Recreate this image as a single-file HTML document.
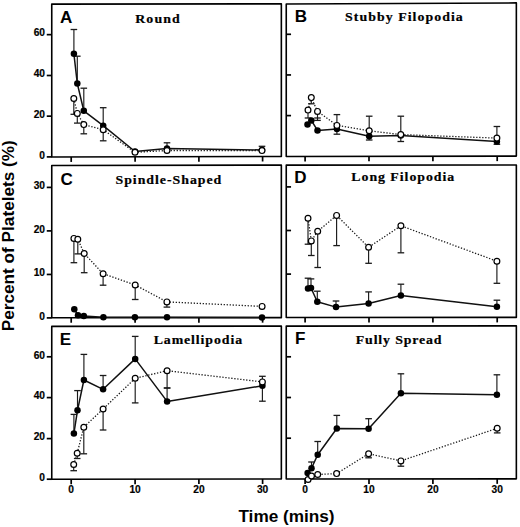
<!DOCTYPE html><html><head><meta charset="utf-8"><style>html,body{margin:0;padding:0;background:#fff;width:520px;height:527px;overflow:hidden}svg{display:block}</style></head><body>
<svg width="520" height="527" viewBox="0 0 520 527">
<rect x="0" y="0" width="520" height="527" fill="#fff"/>
<g fill="none" stroke="#000" stroke-width="1.6" stroke-linejoin="round">
<path d="M51.75 4.1L281.35 3.85L281.35 156.45L51.75 157Z"/>
<path d="M286.25 4L516.35 2.9L516.35 156.1L286.25 156.45Z"/>
<path d="M51.75 165.55L281.35 165.1L281.35 317.65L51.75 317.75Z"/>
<path d="M286.25 165.15L516.35 164.95L516.35 317.4L286.25 317.5Z"/>
<path d="M51.75 326.4L281.35 326.1L281.35 479L51.75 479.3Z"/>
<path d="M286.25 326.1L516.35 325.9L516.35 478.85L286.25 479Z"/>
</g>
<g stroke="#000" stroke-width="1.7" fill="none">
<line x1="71.2" y1="156.95" x2="71.2" y2="161.95"/>
<line x1="135.1" y1="156.8" x2="135.1" y2="161.8"/>
<line x1="198.9" y1="156.65" x2="198.9" y2="161.65"/>
<line x1="262.6" y1="156.49" x2="262.6" y2="161.49"/>
<line x1="46.75" y1="156.9" x2="51.75" y2="156.9"/>
<line x1="46.75" y1="116.15" x2="51.75" y2="116.15"/>
<line x1="46.75" y1="75.5" x2="51.75" y2="75.5"/>
<line x1="46.75" y1="34.65" x2="51.75" y2="34.65"/>
<line x1="305.1" y1="156.42" x2="305.1" y2="161.42"/>
<line x1="369" y1="156.32" x2="369" y2="161.32"/>
<line x1="432.9" y1="156.23" x2="432.9" y2="161.23"/>
<line x1="497.2" y1="156.13" x2="497.2" y2="161.13"/>
<line x1="286.25" y1="115.6" x2="291.05" y2="115.6"/>
<line x1="286.25" y1="74.95" x2="291.05" y2="74.95"/>
<line x1="286.25" y1="34.3" x2="291.05" y2="34.3"/>
<line x1="71.2" y1="317.74" x2="71.2" y2="322.74"/>
<line x1="135.1" y1="317.71" x2="135.1" y2="322.71"/>
<line x1="198.9" y1="317.69" x2="198.9" y2="322.69"/>
<line x1="262.6" y1="317.66" x2="262.6" y2="322.66"/>
<line x1="46.75" y1="317.9" x2="51.75" y2="317.9"/>
<line x1="46.75" y1="274.45" x2="51.75" y2="274.45"/>
<line x1="46.75" y1="230.9" x2="51.75" y2="230.9"/>
<line x1="46.75" y1="187.4" x2="51.75" y2="187.4"/>
<line x1="305.1" y1="317.49" x2="305.1" y2="322.49"/>
<line x1="369" y1="317.46" x2="369" y2="322.46"/>
<line x1="432.9" y1="317.44" x2="432.9" y2="322.44"/>
<line x1="497.2" y1="317.41" x2="497.2" y2="322.41"/>
<line x1="286.25" y1="274.1" x2="291.05" y2="274.1"/>
<line x1="286.25" y1="230.5" x2="291.05" y2="230.5"/>
<line x1="286.25" y1="186.9" x2="291.05" y2="186.9"/>
<line x1="71.2" y1="479.27" x2="71.2" y2="484.27"/>
<line x1="135.1" y1="479.19" x2="135.1" y2="484.19"/>
<line x1="198.9" y1="479.11" x2="198.9" y2="484.11"/>
<line x1="262.6" y1="479.02" x2="262.6" y2="484.02"/>
<line x1="46.75" y1="479.2" x2="51.75" y2="479.2"/>
<line x1="46.75" y1="438.6" x2="51.75" y2="438.6"/>
<line x1="46.75" y1="397.6" x2="51.75" y2="397.6"/>
<line x1="46.75" y1="356.8" x2="51.75" y2="356.8"/>
<line x1="305.1" y1="478.99" x2="305.1" y2="483.99"/>
<line x1="369" y1="478.95" x2="369" y2="483.95"/>
<line x1="432.9" y1="478.9" x2="432.9" y2="483.9"/>
<line x1="497.2" y1="478.86" x2="497.2" y2="483.86"/>
<line x1="286.25" y1="438.2" x2="291.05" y2="438.2"/>
<line x1="286.25" y1="397.5" x2="291.05" y2="397.5"/>
<line x1="286.25" y1="356.8" x2="291.05" y2="356.8"/>
</g>
<g font-family="Liberation Sans, sans-serif" font-weight="bold" font-size="10.2" fill="#000" stroke="#000" stroke-width="0.2">
<text transform="translate(45 158.7) scale(1.0 1)" text-anchor="end">0</text>
<text transform="translate(45 117.95) scale(1.0 1)" text-anchor="end">20</text>
<text transform="translate(45 77.3) scale(1.0 1)" text-anchor="end">40</text>
<text transform="translate(45 36.45) scale(1.0 1)" text-anchor="end">60</text>
<text transform="translate(45 319.7) scale(1.0 1)" text-anchor="end">0</text>
<text transform="translate(45 276.25) scale(1.0 1)" text-anchor="end">10</text>
<text transform="translate(45 232.7) scale(1.0 1)" text-anchor="end">20</text>
<text transform="translate(45 189.2) scale(1.0 1)" text-anchor="end">30</text>
<text transform="translate(45 481) scale(1.0 1)" text-anchor="end">0</text>
<text transform="translate(45 440.4) scale(1.0 1)" text-anchor="end">20</text>
<text transform="translate(45 399.4) scale(1.0 1)" text-anchor="end">40</text>
<text transform="translate(45 358.6) scale(1.0 1)" text-anchor="end">60</text>
<text transform="translate(71.2 492.6) scale(1.0 1)" text-anchor="middle">0</text>
<text transform="translate(135.1 492.6) scale(1.0 1)" text-anchor="middle">10</text>
<text transform="translate(198.9 492.6) scale(1.0 1)" text-anchor="middle">20</text>
<text transform="translate(262.6 492.6) scale(1.0 1)" text-anchor="middle">30</text>
<text transform="translate(305.1 492.6) scale(1.0 1)" text-anchor="middle">0</text>
<text transform="translate(369 492.6) scale(1.0 1)" text-anchor="middle">10</text>
<text transform="translate(432.9 492.6) scale(1.0 1)" text-anchor="middle">20</text>
<text transform="translate(497.2 492.6) scale(1.0 1)" text-anchor="middle">30</text>
</g>
<g font-family="Liberation Sans, sans-serif" font-weight="bold" font-size="17.4" fill="#000">
<text transform="translate(60 23.45) scale(0.98 1)">A</text>
<text transform="translate(294.8 21.9) scale(0.98 1)">B</text>
<text transform="translate(60.4 184.7) scale(0.98 1)">C</text>
<text transform="translate(294.2 183) scale(0.98 1)">D</text>
<text transform="translate(59.7 345.1) scale(0.98 1)">E</text>
<text transform="translate(295 344.1) scale(0.98 1)">F</text>
</g>
<g font-family="Liberation Serif, serif" font-weight="bold" font-size="12.6" fill="#000" stroke="#000" stroke-width="0.2">
<text transform="translate(135.3 22.6) scale(1.1 1)" x="0" y="0" textLength="40.36" lengthAdjust="spacing">Round</text>
<text transform="translate(345 20.6) scale(1.1 1)" x="0" y="0" textLength="107.09" lengthAdjust="spacing">Stubby Filopodia</text>
<text transform="translate(115.5 183.6) scale(1.1 1)" x="0" y="0" textLength="96.18" lengthAdjust="spacing">Spindle-Shaped</text>
<text transform="translate(351.3 180.7) scale(1.1 1)" x="0" y="0" textLength="93.64" lengthAdjust="spacing">Long Filopodia</text>
<text transform="translate(153.7 344.1) scale(1.1 1)" x="0" y="0" textLength="80.36" lengthAdjust="spacing">Lamellipodia</text>
<text transform="translate(355.8 343.5) scale(1.1 1)" x="0" y="0" textLength="77.91" lengthAdjust="spacing">Fully Spread</text>
</g>
<polyline points="73.9,53.8 77.3,83.5 83.8,110.8 103.2,125.7 135,151.5 167,148.5 262,150" fill="none" stroke="#111" stroke-width="1.5" stroke-linejoin="round"/>
<polyline points="73.8,98.5 77.3,113.4 83.8,124.6 103.2,129.7 135,152.3 167,150.5 262,150.6" fill="none" stroke="#1a1a1a" stroke-width="1.3" stroke-dasharray="1.3 1.7"/>
<polyline points="307.5,124.4 311.3,120.4 317.5,130.4 336.9,129 369.2,136.2 400.8,135.5 496.9,141.5" fill="none" stroke="#111" stroke-width="1.5" stroke-linejoin="round"/>
<polyline points="308,110.1 311.3,97.6 317.5,111.4 336.9,125.4 369.2,130.8 400.8,134.6 496.9,138.1" fill="none" stroke="#1a1a1a" stroke-width="1.3" stroke-dasharray="1.3 1.7"/>
<polyline points="74.3,309.2 78,315.3 83.8,316.1 103.4,317.3 134.9,317.3 167,317.3 262,317.4" fill="none" stroke="#111" stroke-width="1.5" stroke-linejoin="round"/>
<polyline points="73.9,238.4 77.8,239.3 84.2,253.5 103.1,273.7 135.2,285 166.9,301.9 262.1,306.4" fill="none" stroke="#1a1a1a" stroke-width="1.3" stroke-dasharray="1.3 1.7"/>
<polyline points="308,288.4 311,288 317.3,301.7 336,307.1 368.6,303.5 400.9,295.6 496.9,306.7" fill="none" stroke="#111" stroke-width="1.5" stroke-linejoin="round"/>
<polyline points="308,218.3 311.3,240.9 317.7,231.3 336.6,215.4 368.6,247.3 400.9,225.8 496.9,261.2" fill="none" stroke="#1a1a1a" stroke-width="1.3" stroke-dasharray="1.3 1.7"/>
<polyline points="73.9,433.5 77.5,410.3 83.9,380 103.1,389.3 135.2,358.9 167.1,401.4 262.4,385.8" fill="none" stroke="#111" stroke-width="1.5" stroke-linejoin="round"/>
<polyline points="73.7,464.5 77.2,453.2 83.8,427.2 103.1,409 135.2,378.3 167.1,370.7 262.4,381.9" fill="none" stroke="#1a1a1a" stroke-width="1.3" stroke-dasharray="1.3 1.7"/>
<polyline points="307.6,473.1 311.5,468.3 317.7,454.7 336.8,428.5 368.6,428.7 400.9,393.2 496.9,394.8" fill="none" stroke="#111" stroke-width="1.5" stroke-linejoin="round"/>
<polyline points="308.1,479.5 311.5,476 317.7,474.5 336.6,473.6 368.6,453.8 400.9,460.9 497.2,428.3" fill="none" stroke="#1a1a1a" stroke-width="1.3" stroke-dasharray="1.3 1.7"/>
<g stroke="#1a1a1a" stroke-width="1.15" fill="none">
<line x1="73.9" y1="53.8" x2="73.9" y2="29.5"/>
<line x1="70.6" y1="29.5" x2="77.2" y2="29.5" stroke-width="1.3"/>
<line x1="77.3" y1="83.5" x2="77.3" y2="56.2"/>
<line x1="74" y1="56.2" x2="80.6" y2="56.2" stroke-width="1.3"/>
<line x1="83.8" y1="110.8" x2="83.8" y2="88.2"/>
<line x1="80.5" y1="88.2" x2="87.1" y2="88.2" stroke-width="1.3"/>
<line x1="103.2" y1="125.7" x2="103.2" y2="107.7"/>
<line x1="99.9" y1="107.7" x2="106.5" y2="107.7" stroke-width="1.3"/>
<line x1="167" y1="148.5" x2="167" y2="142.8"/>
<line x1="163.7" y1="142.8" x2="170.3" y2="142.8" stroke-width="1.3"/>
<line x1="262" y1="150" x2="262" y2="146.3"/>
<line x1="258.7" y1="146.3" x2="265.3" y2="146.3" stroke-width="1.3"/>
<line x1="73.8" y1="98.5" x2="73.8" y2="114.3"/>
<line x1="70.5" y1="114.3" x2="77.1" y2="114.3" stroke-width="1.3"/>
<line x1="77.3" y1="113.4" x2="77.3" y2="123.1"/>
<line x1="74" y1="123.1" x2="80.6" y2="123.1" stroke-width="1.3"/>
<line x1="83.8" y1="124.6" x2="83.8" y2="133.8"/>
<line x1="80.5" y1="133.8" x2="87.1" y2="133.8" stroke-width="1.3"/>
<line x1="103.2" y1="129.7" x2="103.2" y2="140.8"/>
<line x1="99.9" y1="140.8" x2="106.5" y2="140.8" stroke-width="1.3"/>
<line x1="336.9" y1="129" x2="336.9" y2="134.2"/>
<line x1="333.6" y1="134.2" x2="340.2" y2="134.2" stroke-width="1.3"/>
<line x1="369.2" y1="136.2" x2="369.2" y2="140"/>
<line x1="365.9" y1="140" x2="372.5" y2="140" stroke-width="1.3"/>
<line x1="400.8" y1="135.5" x2="400.8" y2="141.5"/>
<line x1="397.5" y1="141.5" x2="404.1" y2="141.5" stroke-width="1.3"/>
<line x1="496.9" y1="141.5" x2="496.9" y2="144.3"/>
<line x1="493.6" y1="144.3" x2="500.2" y2="144.3" stroke-width="1.3"/>
<line x1="308" y1="110.1" x2="308" y2="118"/>
<line x1="304.7" y1="118" x2="311.3" y2="118" stroke-width="1.3"/>
<line x1="311.3" y1="97.6" x2="311.3" y2="103.8"/>
<line x1="308" y1="103.8" x2="314.6" y2="103.8" stroke-width="1.3"/>
<line x1="317.5" y1="111.4" x2="317.5" y2="120.4"/>
<line x1="314.2" y1="120.4" x2="320.8" y2="120.4" stroke-width="1.3"/>
<line x1="336.9" y1="125.4" x2="336.9" y2="114.6"/>
<line x1="333.6" y1="114.6" x2="340.2" y2="114.6" stroke-width="1.3"/>
<line x1="369.2" y1="130.8" x2="369.2" y2="116.2"/>
<line x1="365.9" y1="116.2" x2="372.5" y2="116.2" stroke-width="1.3"/>
<line x1="400.8" y1="134.6" x2="400.8" y2="116.2"/>
<line x1="397.5" y1="116.2" x2="404.1" y2="116.2" stroke-width="1.3"/>
<line x1="496.9" y1="138.1" x2="496.9" y2="126.5"/>
<line x1="493.6" y1="126.5" x2="500.2" y2="126.5" stroke-width="1.3"/>
<line x1="314.2" y1="118" x2="320.8" y2="118" stroke-width="1.3"/>
<line x1="73.9" y1="238.4" x2="73.9" y2="262.7"/>
<line x1="70.6" y1="262.7" x2="77.2" y2="262.7" stroke-width="1.3"/>
<line x1="77.8" y1="239.3" x2="77.8" y2="253.9"/>
<line x1="74.5" y1="253.9" x2="81.1" y2="253.9" stroke-width="1.3"/>
<line x1="84.2" y1="253.5" x2="84.2" y2="272.7"/>
<line x1="80.9" y1="272.7" x2="87.5" y2="272.7" stroke-width="1.3"/>
<line x1="103.1" y1="273.7" x2="103.1" y2="285.2"/>
<line x1="99.8" y1="285.2" x2="106.4" y2="285.2" stroke-width="1.3"/>
<line x1="135.2" y1="285" x2="135.2" y2="299.5"/>
<line x1="131.9" y1="299.5" x2="138.5" y2="299.5" stroke-width="1.3"/>
<line x1="166.9" y1="301.9" x2="166.9" y2="307.1"/>
<line x1="163.6" y1="307.1" x2="170.2" y2="307.1" stroke-width="1.3"/>
<line x1="308" y1="288.4" x2="308" y2="278.2"/>
<line x1="304.7" y1="278.2" x2="311.3" y2="278.2" stroke-width="1.3"/>
<line x1="311" y1="288" x2="311" y2="278.9"/>
<line x1="307.7" y1="278.9" x2="314.3" y2="278.9" stroke-width="1.3"/>
<line x1="317.3" y1="301.7" x2="317.3" y2="291.2"/>
<line x1="314" y1="291.2" x2="320.6" y2="291.2" stroke-width="1.3"/>
<line x1="336" y1="307.1" x2="336" y2="301"/>
<line x1="332.7" y1="301" x2="339.3" y2="301" stroke-width="1.3"/>
<line x1="368.6" y1="303.5" x2="368.6" y2="291.9"/>
<line x1="365.3" y1="291.9" x2="371.9" y2="291.9" stroke-width="1.3"/>
<line x1="400.9" y1="295.6" x2="400.9" y2="284.2"/>
<line x1="397.6" y1="284.2" x2="404.2" y2="284.2" stroke-width="1.3"/>
<line x1="496.9" y1="306.7" x2="496.9" y2="300.2"/>
<line x1="493.6" y1="300.2" x2="500.2" y2="300.2" stroke-width="1.3"/>
<line x1="308" y1="218.3" x2="308" y2="244.2"/>
<line x1="304.7" y1="244.2" x2="311.3" y2="244.2" stroke-width="1.3"/>
<line x1="311.3" y1="240.9" x2="311.3" y2="255.5"/>
<line x1="308" y1="255.5" x2="314.6" y2="255.5" stroke-width="1.3"/>
<line x1="317.7" y1="231.3" x2="317.7" y2="267.5"/>
<line x1="314.4" y1="267.5" x2="321" y2="267.5" stroke-width="1.3"/>
<line x1="336.6" y1="215.4" x2="336.6" y2="245.6"/>
<line x1="333.3" y1="245.6" x2="339.9" y2="245.6" stroke-width="1.3"/>
<line x1="368.6" y1="247.3" x2="368.6" y2="263.3"/>
<line x1="365.3" y1="263.3" x2="371.9" y2="263.3" stroke-width="1.3"/>
<line x1="400.9" y1="225.8" x2="400.9" y2="252.8"/>
<line x1="397.6" y1="252.8" x2="404.2" y2="252.8" stroke-width="1.3"/>
<line x1="496.9" y1="261.2" x2="496.9" y2="283.3"/>
<line x1="493.6" y1="283.3" x2="500.2" y2="283.3" stroke-width="1.3"/>
<line x1="73.9" y1="433.5" x2="73.9" y2="414.4"/>
<line x1="70.6" y1="414.4" x2="77.2" y2="414.4" stroke-width="1.3"/>
<line x1="77.5" y1="410.3" x2="77.5" y2="390.6"/>
<line x1="74.2" y1="390.6" x2="80.8" y2="390.6" stroke-width="1.3"/>
<line x1="83.9" y1="380" x2="83.9" y2="354.4"/>
<line x1="80.6" y1="354.4" x2="87.2" y2="354.4" stroke-width="1.3"/>
<line x1="103.1" y1="389.3" x2="103.1" y2="375.5"/>
<line x1="99.8" y1="375.5" x2="106.4" y2="375.5" stroke-width="1.3"/>
<line x1="135.2" y1="358.9" x2="135.2" y2="336.4"/>
<line x1="131.9" y1="336.4" x2="138.5" y2="336.4" stroke-width="1.3"/>
<line x1="167.1" y1="401.4" x2="167.1" y2="388"/>
<line x1="163.8" y1="388" x2="170.4" y2="388" stroke-width="1.3"/>
<line x1="262.4" y1="385.8" x2="262.4" y2="401.2"/>
<line x1="259.1" y1="401.2" x2="265.7" y2="401.2" stroke-width="1.3"/>
<line x1="73.7" y1="464.5" x2="73.7" y2="470.7"/>
<line x1="70.4" y1="470.7" x2="77" y2="470.7" stroke-width="1.3"/>
<line x1="77.2" y1="453.2" x2="77.2" y2="458.5"/>
<line x1="73.9" y1="458.5" x2="80.5" y2="458.5" stroke-width="1.3"/>
<line x1="83.8" y1="427.2" x2="83.8" y2="453.8"/>
<line x1="80.5" y1="453.8" x2="87.1" y2="453.8" stroke-width="1.3"/>
<line x1="103.1" y1="409" x2="103.1" y2="430"/>
<line x1="99.8" y1="430" x2="106.4" y2="430" stroke-width="1.3"/>
<line x1="135.2" y1="378.3" x2="135.2" y2="402.9"/>
<line x1="131.9" y1="402.9" x2="138.5" y2="402.9" stroke-width="1.3"/>
<line x1="167.1" y1="370.7" x2="167.1" y2="388"/>
<line x1="163.8" y1="388" x2="170.4" y2="388" stroke-width="1.3"/>
<line x1="262.4" y1="381.9" x2="262.4" y2="376.3"/>
<line x1="259.1" y1="376.3" x2="265.7" y2="376.3" stroke-width="1.3"/>
<line x1="311.5" y1="468.3" x2="311.5" y2="462"/>
<line x1="308.2" y1="462" x2="314.8" y2="462" stroke-width="1.3"/>
<line x1="317.7" y1="454.7" x2="317.7" y2="441.5"/>
<line x1="314.4" y1="441.5" x2="321" y2="441.5" stroke-width="1.3"/>
<line x1="336.8" y1="428.5" x2="336.8" y2="415.4"/>
<line x1="333.5" y1="415.4" x2="340.1" y2="415.4" stroke-width="1.3"/>
<line x1="368.6" y1="428.7" x2="368.6" y2="418.7"/>
<line x1="365.3" y1="418.7" x2="371.9" y2="418.7" stroke-width="1.3"/>
<line x1="400.9" y1="393.2" x2="400.9" y2="373.8"/>
<line x1="397.6" y1="373.8" x2="404.2" y2="373.8" stroke-width="1.3"/>
<line x1="496.9" y1="394.8" x2="496.9" y2="374.8"/>
<line x1="493.6" y1="374.8" x2="500.2" y2="374.8" stroke-width="1.3"/>
<line x1="368.6" y1="453.8" x2="368.6" y2="457.8"/>
<line x1="365.3" y1="457.8" x2="371.9" y2="457.8" stroke-width="1.3"/>
<line x1="400.9" y1="460.9" x2="400.9" y2="466.2"/>
<line x1="397.6" y1="466.2" x2="404.2" y2="466.2" stroke-width="1.3"/>
<line x1="497.2" y1="428.3" x2="497.2" y2="432.9"/>
<line x1="493.9" y1="432.9" x2="500.5" y2="432.9" stroke-width="1.3"/>
</g>
<g fill="#000">
<circle cx="73.9" cy="53.8" r="3.25"/>
<circle cx="77.3" cy="83.5" r="3.25"/>
<circle cx="83.8" cy="110.8" r="3.25"/>
<circle cx="103.2" cy="125.7" r="3.25"/>
<circle cx="135" cy="151.5" r="3.25"/>
<circle cx="167" cy="148.5" r="3.25"/>
<circle cx="262" cy="150" r="3.25"/>
<circle cx="307.5" cy="124.4" r="3.25"/>
<circle cx="311.3" cy="120.4" r="3.25"/>
<circle cx="317.5" cy="130.4" r="3.25"/>
<circle cx="336.9" cy="129" r="3.25"/>
<circle cx="369.2" cy="136.2" r="3.25"/>
<circle cx="400.8" cy="135.5" r="3.25"/>
<circle cx="496.9" cy="141.5" r="3.25"/>
<circle cx="74.3" cy="309.2" r="3.25"/>
<circle cx="78" cy="315.3" r="3.25"/>
<circle cx="83.8" cy="316.1" r="3.25"/>
<circle cx="103.4" cy="317.3" r="3.25"/>
<circle cx="134.9" cy="317.3" r="3.25"/>
<circle cx="167" cy="317.3" r="3.25"/>
<circle cx="262" cy="317.4" r="3.25"/>
<circle cx="308" cy="288.4" r="3.25"/>
<circle cx="311" cy="288" r="3.25"/>
<circle cx="317.3" cy="301.7" r="3.25"/>
<circle cx="336" cy="307.1" r="3.25"/>
<circle cx="368.6" cy="303.5" r="3.25"/>
<circle cx="400.9" cy="295.6" r="3.25"/>
<circle cx="496.9" cy="306.7" r="3.25"/>
<circle cx="73.9" cy="433.5" r="3.25"/>
<circle cx="77.5" cy="410.3" r="3.25"/>
<circle cx="83.9" cy="380" r="3.25"/>
<circle cx="103.1" cy="389.3" r="3.25"/>
<circle cx="135.2" cy="358.9" r="3.25"/>
<circle cx="167.1" cy="401.4" r="3.25"/>
<circle cx="262.4" cy="385.8" r="3.25"/>
<circle cx="307.6" cy="473.1" r="3.25"/>
<circle cx="311.5" cy="468.3" r="3.25"/>
<circle cx="317.7" cy="454.7" r="3.25"/>
<circle cx="336.8" cy="428.5" r="3.25"/>
<circle cx="368.6" cy="428.7" r="3.25"/>
<circle cx="400.9" cy="393.2" r="3.25"/>
<circle cx="496.9" cy="394.8" r="3.25"/>
</g>
<g fill="#fff" stroke="#000" stroke-width="1.2">
<circle cx="73.8" cy="98.5" r="2.9"/>
<circle cx="77.3" cy="113.4" r="2.9"/>
<circle cx="83.8" cy="124.6" r="2.9"/>
<circle cx="103.2" cy="129.7" r="2.9"/>
<circle cx="135" cy="152.3" r="2.9"/>
<circle cx="167" cy="150.5" r="2.9"/>
<circle cx="262" cy="150.6" r="2.9"/>
<circle cx="308" cy="110.1" r="2.9"/>
<circle cx="311.3" cy="97.6" r="2.9"/>
<circle cx="317.5" cy="111.4" r="2.9"/>
<circle cx="336.9" cy="125.4" r="2.9"/>
<circle cx="369.2" cy="130.8" r="2.9"/>
<circle cx="400.8" cy="134.6" r="2.9"/>
<circle cx="496.9" cy="138.1" r="2.9"/>
<circle cx="73.9" cy="238.4" r="2.9"/>
<circle cx="77.8" cy="239.3" r="2.9"/>
<circle cx="84.2" cy="253.5" r="2.9"/>
<circle cx="103.1" cy="273.7" r="2.9"/>
<circle cx="135.2" cy="285" r="2.9"/>
<circle cx="166.9" cy="301.9" r="2.9"/>
<circle cx="262.1" cy="306.4" r="2.9"/>
<circle cx="308" cy="218.3" r="2.9"/>
<circle cx="311.3" cy="240.9" r="2.9"/>
<circle cx="317.7" cy="231.3" r="2.9"/>
<circle cx="336.6" cy="215.4" r="2.9"/>
<circle cx="368.6" cy="247.3" r="2.9"/>
<circle cx="400.9" cy="225.8" r="2.9"/>
<circle cx="496.9" cy="261.2" r="2.9"/>
<circle cx="73.7" cy="464.5" r="2.9"/>
<circle cx="77.2" cy="453.2" r="2.9"/>
<circle cx="83.8" cy="427.2" r="2.9"/>
<circle cx="103.1" cy="409" r="2.9"/>
<circle cx="135.2" cy="378.3" r="2.9"/>
<circle cx="167.1" cy="370.7" r="2.9"/>
<circle cx="262.4" cy="381.9" r="2.9"/>
<circle cx="308.1" cy="479.5" r="2.9"/>
<circle cx="311.5" cy="476" r="2.9"/>
<circle cx="317.7" cy="474.5" r="2.9"/>
<circle cx="336.6" cy="473.6" r="2.9"/>
<circle cx="368.6" cy="453.8" r="2.9"/>
<circle cx="400.9" cy="460.9" r="2.9"/>
<circle cx="497.2" cy="428.3" r="2.9"/>
</g>
<text x="286.5" y="522.1" text-anchor="middle" font-family="Liberation Sans, sans-serif" font-weight="bold" font-size="17.2" fill="#000">Time (mins)</text>
<text transform="translate(14.0 235.7) rotate(-90)" text-anchor="middle" font-family="Liberation Sans, sans-serif" font-weight="bold" font-size="17.2" fill="#000">Percent of Platelets (%)</text>
</svg></body></html>
